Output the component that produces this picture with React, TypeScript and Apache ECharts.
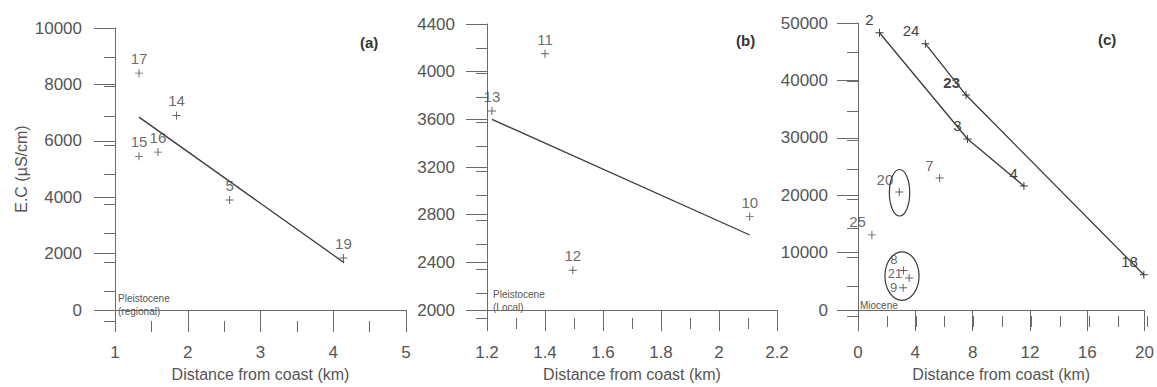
import React, { useEffect, useRef } from "react";
import * as echarts from "echarts";

// Panel (a) – Pleistocene (regional)
const aIds = ["17", "14", "15", "16", "5", "19"];
const aDist = [1.33, 1.845, 1.33, 1.59, 2.575, 4.14];
const aEC = [8400, 6900, 5450, 5600, 3900, 1850];
const aTrendDist = [1.33, 4.15];
const aTrendEC = [6840, 1680];

// Panel (b) – Pleistocene (local)
const bIds = ["11", "13", "12", "10"];
const bDist = [1.4, 1.217, 1.496, 2.106];
const bEC = [4150, 3670, 2335, 2784];
const bTrendDist = [1.217, 2.106];
const bTrendEC = [3600, 2630];

// Panel (c) – Miocene
const cLine1Ids = ["2", "3", "4"];
const cLine1Dist = [1.5, 7.65, 11.58];
const cLine1EC = [48300, 29800, 21600];
const cLine2Ids = ["24", "23", "18"];
const cLine2Dist = [4.7, 7.54, 19.95];
const cLine2EC = [46400, 37450, 6150];
const cIds = ["7", "20", "25", "8", "21", "9"];
const cDist = [5.7, 2.88, 0.97, 3.17, 3.57, 3.15];
const cEC = [23000, 20550, 13100, 6900, 5600, 3900];
const ellipseDist = [2.9, 3.07];
const ellipseEC = [20440, 5930];
const ellipseRadDist = [0.71, 1.19];
const ellipseRadEC = [4050, 4220];

// Axis ranges: [min, max, major step, minor step]
const xRanges = [
  [1, 5, 1, 0.5],
  [1.2, 2.2, 0.2, 0.1],
  [0, 20, 4, 2],
];
const yRanges = [
  [0, 10000, 2000, 1000],
  [2000, 4400, 400, 200],
  [0, 50000, 10000, 5000],
];

const FONT = "Liberation Sans, Arial, sans-serif";
const AXIS = "#6a6a6a";
const TEXT = "#555";
const MARK = "#3a3a3a";
const CROSS = "path://M4.4,0H5.6V10H4.4ZM0,4.4H10V5.6H0Z";

const grids = [
  { left: 115, top: 28, width: 291, height: 293 },
  { left: 487, top: 24, width: 290, height: 294 },
  { left: 858, top: 23, width: 289, height: 293 },
];
const yLabelMargins = [33, 32, 30];

// label placement tweaks for the crowded cluster in panel (c)
const labelTweaks: Record<string, any> = {
  "8": { offset: [0, -11], fontSize: 13, lineHeight: 14 },
  "21": { offset: [-1, -4], fontSize: 13, lineHeight: 14 },
  "9": { offset: [0, 0], fontSize: 13, lineHeight: 14 },
  "23": { fontWeight: "bold" },
};

function xAxisOf(gridIndex: number, r: number[]) {
  return {
    type: "value",
    gridIndex,
    min: r[0],
    max: r[1],
    interval: r[2],
    name: "Distance from coast (km)",
    nameLocation: "middle",
    nameGap: 54,
    nameTextStyle: { color: TEXT, fontSize: 16, fontFamily: FONT },
    axisLine: { show: true, onZero: false, lineStyle: { color: AXIS, width: 1 } },
    axisTick: { show: true, length: 21, lineStyle: { color: AXIS } },
    axisLabel: { color: TEXT, fontSize: 17, fontFamily: FONT, margin: 34 },
    splitLine: { show: false },
  };
}

function yAxisOf(gridIndex: number, r: number[], margin: number, name?: string) {
  return {
    type: "value",
    gridIndex,
    min: r[0],
    max: r[1],
    interval: r[2],
    name: name || "",
    nameLocation: "middle",
    nameRotate: 90,
    nameGap: 86,
    nameTextStyle: { color: TEXT, fontSize: 16, fontFamily: FONT },
    axisLine: { show: true, onZero: false, lineStyle: { color: AXIS, width: 1 } },
    axisTick: { show: true, length: 21, lineStyle: { color: AXIS } },
    axisLabel: {
      color: TEXT,
      fontSize: 17,
      fontFamily: FONT,
      margin,
      formatter: (v: number) => String(Math.round(v)),
    },
    splitLine: { show: false },
  };
}

// overlay axes drawing only the short minor ticks
function minorAxisOf(gridIndex: number, r: number[]) {
  return {
    type: "value",
    gridIndex,
    min: r[0],
    max: r[1],
    interval: r[3],
    axisLine: { show: false, onZero: false },
    axisTick: { show: true, length: 11, lineStyle: { color: AXIS } },
    axisLabel: { show: false },
    splitLine: { show: false },
  };
}

const pointLabelTop = {
  show: true,
  position: "top",
  distance: 3,
  color: "#444",
  fontSize: 15,
  fontFamily: FONT,
  formatter: (p: any) => p.data[2],
};

const pointLabelUpLeft = {
  show: true,
  position: "left",
  distance: 2,
  offset: [0, -13],
  color: "#444",
  fontSize: 15,
  fontFamily: FONT,
  formatter: (p: any) => (Array.isArray(p.data) ? p.data[2] : p.data.value[2]),
};

function zip3(xs: number[], ys: number[], ids: string[]) {
  return xs.map((x, i) => [x, ys[i], ids[i]]);
}
function zip2(xs: number[], ys: number[]) {
  return xs.map((x, i) => [x, ys[i]]);
}
function withLabelTweaks(rows: any[]) {
  return rows.map((d) => (labelTweaks[d[2]] ? { value: d, label: labelTweaks[d[2]] } : d));
}

export default function App() {
  const ref = useRef<HTMLDivElement>(null);

  useEffect(() => {
    document.body.style.margin = "0";
    const chart = echarts.init(ref.current!, undefined, { renderer: "svg" });

    const option: any = {
      animation: false,
      backgroundColor: "#fff",
      grid: [...grids, ...grids],
      xAxis: [
        xAxisOf(0, xRanges[0]),
        xAxisOf(1, xRanges[1]),
        xAxisOf(2, xRanges[2]),
        minorAxisOf(3, xRanges[0]),
        minorAxisOf(4, xRanges[1]),
        minorAxisOf(5, xRanges[2]),
      ],
      yAxis: [
        yAxisOf(0, yRanges[0], yLabelMargins[0], "E.C (µS/cm)"),
        yAxisOf(1, yRanges[1], yLabelMargins[1]),
        yAxisOf(2, yRanges[2], yLabelMargins[2]),
        minorAxisOf(3, yRanges[0]),
        minorAxisOf(4, yRanges[1]),
        minorAxisOf(5, yRanges[2]),
      ],
      graphic: [
        { type: "text", left: 360, top: 35, style: { text: "(a)", fill: "#333", font: `bold 15px ${FONT}` } },
        { type: "text", left: 736, top: 33, style: { text: "(b)", fill: "#333", font: `bold 15px ${FONT}` } },
        { type: "text", left: 1098, top: 32, style: { text: "(c)", fill: "#333", font: `bold 15px ${FONT}` } },
        { type: "text", left: 118, top: 292, style: { text: "Pleistocene\n(regional)", fill: "#555", font: `10px ${FONT}`, lineHeight: 13 } },
        { type: "text", left: 493, top: 288, style: { text: "Pleistocene\n(Local)", fill: "#555", font: `10px ${FONT}`, lineHeight: 13 } },
        { type: "text", left: 860, top: 300, style: { text: "Miocene", fill: "#555", font: `10px ${FONT}` } },
      ],
      series: [
        {
          type: "line",
          xAxisIndex: 0,
          yAxisIndex: 0,
          data: zip2(aTrendDist, aTrendEC),
          showSymbol: false,
          lineStyle: { color: MARK, width: 1.3 },
        },
        {
          type: "scatter",
          xAxisIndex: 0,
          yAxisIndex: 0,
          data: zip3(aDist, aEC, aIds),
          symbol: CROSS,
          symbolSize: 8,
          itemStyle: { color: MARK },
          label: pointLabelTop,
        },
        {
          type: "line",
          xAxisIndex: 1,
          yAxisIndex: 1,
          data: zip2(bTrendDist, bTrendEC),
          showSymbol: false,
          lineStyle: { color: MARK, width: 1.3 },
        },
        {
          type: "scatter",
          xAxisIndex: 1,
          yAxisIndex: 1,
          data: zip3(bDist, bEC, bIds),
          symbol: CROSS,
          symbolSize: 8,
          itemStyle: { color: MARK },
          label: pointLabelTop,
        },
        {
          type: "line",
          xAxisIndex: 2,
          yAxisIndex: 2,
          data: zip3(cLine1Dist, cLine1EC, cLine1Ids),
          symbol: CROSS,
          symbolSize: 8,
          showSymbol: true,
          itemStyle: { color: MARK },
          lineStyle: { color: MARK, width: 1.3 },
          label: pointLabelUpLeft,
        },
        {
          type: "line",
          xAxisIndex: 2,
          yAxisIndex: 2,
          data: withLabelTweaks(zip3(cLine2Dist, cLine2EC, cLine2Ids)),
          symbol: CROSS,
          symbolSize: 8,
          showSymbol: true,
          itemStyle: { color: MARK },
          lineStyle: { color: MARK, width: 1.3 },
          label: pointLabelUpLeft,
        },
        {
          type: "scatter",
          xAxisIndex: 2,
          yAxisIndex: 2,
          data: withLabelTweaks(zip3(cDist, cEC, cIds)),
          symbol: CROSS,
          symbolSize: 8,
          itemStyle: { color: MARK },
          label: pointLabelUpLeft,
        },
        {
          type: "custom",
          xAxisIndex: 2,
          yAxisIndex: 2,
          data: ellipseDist.map((x, i) => [x, ellipseEC[i], ellipseRadDist[i], ellipseRadEC[i]]),
          renderItem: (params: any, api: any) => {
            const c = api.coord([api.value(0), api.value(1)]);
            const s = api.size([api.value(2), api.value(3)]);
            return {
              type: "ellipse",
              shape: { cx: c[0], cy: c[1], rx: s[0], ry: s[1] },
              style: { fill: "none", stroke: MARK, lineWidth: 1.2 },
            };
          },
        },
      ],
    };

    chart.setOption(option);
    return () => chart.dispose();
  }, []);

  return <div ref={ref} style={{ width: 1157, height: 387 }} />;
}
